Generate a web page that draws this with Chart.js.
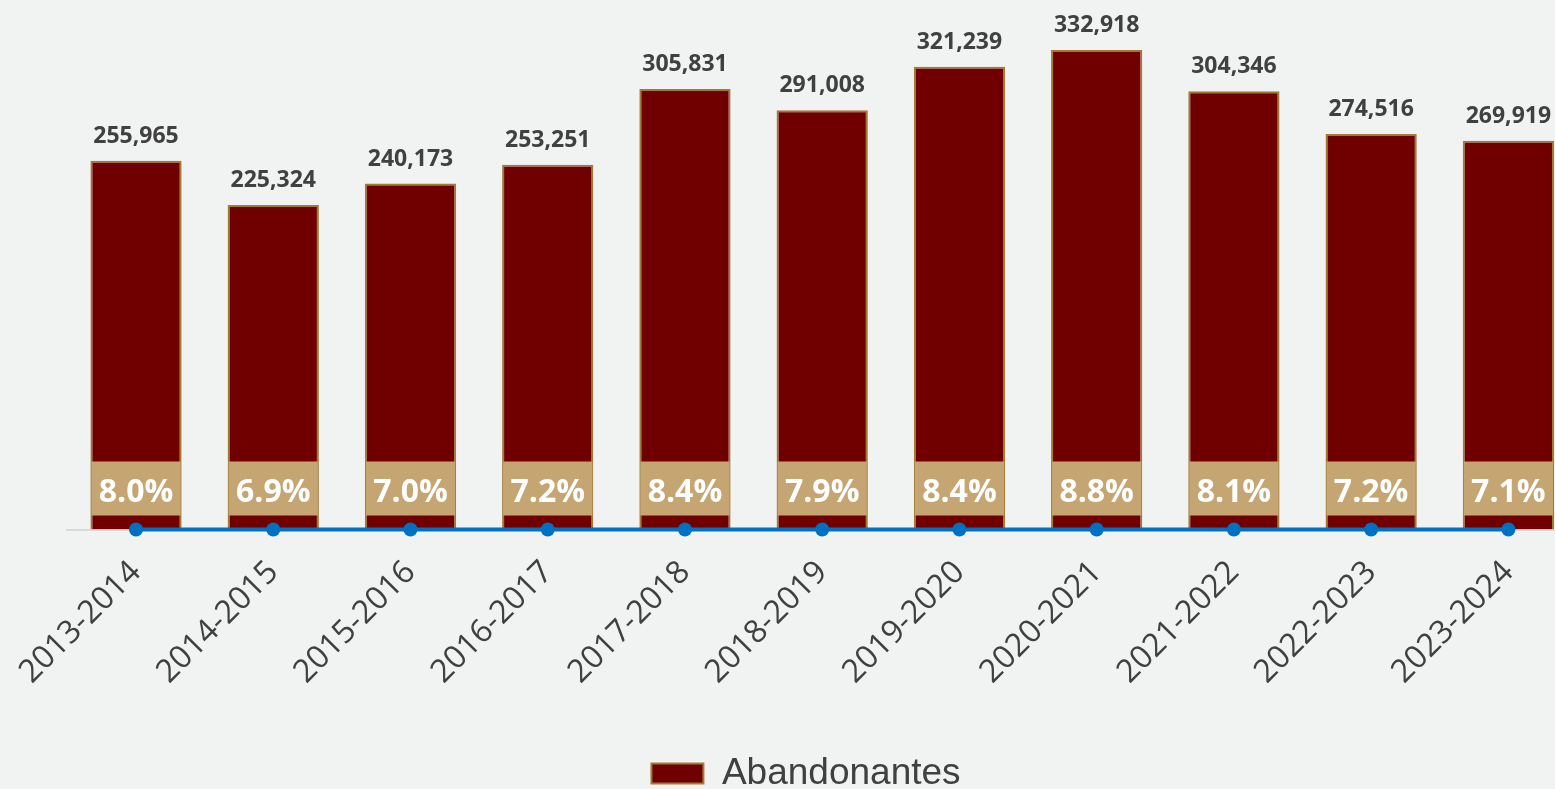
<!DOCTYPE html>
<html>
<head>
<meta charset="utf-8">
<script src="https://cdn.jsdelivr.net/npm/chart.js@4.4.1/dist/chart.umd.min.js"></script>
<style>
    html, body {
        margin: 0;
        padding: 0;
        background: #f1f2f2;
        overflow: hidden;
    }
    #wrap {
        position: absolute;
        left: 0;
        top: 0;
        width: 1577px;
        height: 802px;
    }
</style>
</head>
<body>
<div id="wrap"><canvas id="myChart"></canvas></div>
<script>
// ciclos escolares
const ciclos = ['2013-2014', '2014-2015', '2015-2016', '2016-2017', '2017-2018', '2018-2019',
    '2019-2020', '2020-2021', '2021-2022', '2022-2023', '2023-2024'];

// alumnos que abandonan
const abandonantes = [255965, 225324, 240173, 253251, 305831, 291008, 321239, 332918, 304346, 274516, 269919];

// tasa de abandono
const tasa = [0.080, 0.069, 0.070, 0.072, 0.084, 0.079, 0.084, 0.088, 0.081, 0.072, 0.071];

const textColor = '#404040';

// etiquetas encima de las barras y porcentajes abajo
const etiquetas = {
    id: 'etiquetas',
    afterDatasetsDraw(chart) {
        let ctx = chart.ctx;
        let meta = chart.getDatasetMeta(1);
        let base = chart.scales.y.getPixelForValue(0);
        ctx.save();
        meta.data.forEach(function(bar, i) {
            let w = bar.width;
            // valor
            ctx.fillStyle = textColor;
            ctx.font = 'bold 23px "Open Sans"';
            ctx.textAlign = 'center';
            ctx.textBaseline = 'alphabetic';
            ctx.fillText(abandonantes[i].toLocaleString('en-US'), bar.x, bar.y - 18);
            // caja de porcentaje
            ctx.fillStyle = '#c5a572';
            ctx.fillRect(bar.x - w / 2 + 1, base - 68, w - 2, 54);
            ctx.fillStyle = '#ffffff';
            ctx.font = 'bold 32px "Open Sans"';
            ctx.fillText((tasa[i] * 100).toFixed(1) + '%', bar.x, base - 28);
        });
        ctx.restore();
    }
};

let ctx = document.getElementById('myChart').getContext('2d');

new Chart(ctx, {
    data: {
        labels: ciclos,
        datasets: [{
            type: 'line',
            label: 'Tasa',
            data: tasa,
            borderColor: '#0070c0',
            backgroundColor: '#0070c0',
            borderWidth: 4,
            pointRadius: 7,
            pointBorderWidth: 0,
            pointBackgroundColor: '#0070c0',
            clip: false,
            order: 0
        }, {
            type: 'bar',
            label: 'Abandonantes',
            data: abandonantes,
            backgroundColor: '#700000',
            borderColor: '#a27a34',
            borderWidth: 2,
            categoryPercentage: 1,
            barPercentage: 0.665,
            order: 1
        }]
    },
    options: {
        responsive: true,
        maintainAspectRatio: false,
        animation: false,
        layout: {
            autoPadding: false,
            padding: { left: 35, right: 0, top: 11, bottom: 0 }
        },
        scales: {
            x: {
                grid: { display: false, drawTicks: false },
                border: { display: true, color: '#d9d9d9', width: 2 },
                ticks: {
                    color: textColor,
                    font: { family: '"Open Sans"', size: 32 },
                    minRotation: 45,
                    maxRotation: 45,
                    padding: 24
                },
                afterFit: function(scale) {
                    scale.height = 215.5;
                    scale.paddingLeft = 0;
                    scale.paddingRight = 0;
                }
            },
            y: {
                min: 0,
                max: 360000,
                grid: { display: false },
                border: { display: false },
                ticks: { display: false },
                afterFit: function(scale) {
                    scale.width = 32.4;
                }
            }
        },
        plugins: {
            tooltip: { enabled: false },
            legend: {
                position: 'bottom',
                labels: {
                    filter: item => item.text === 'Abandonantes',
                    boxWidth: 52,
                    boxHeight: 20,
                    color: textColor,
                    font: { family: '"Liberation Sans"', size: 37 }
                }
            }
        }
    },
    plugins: [etiquetas]
});
</script>
</body>
</html>
